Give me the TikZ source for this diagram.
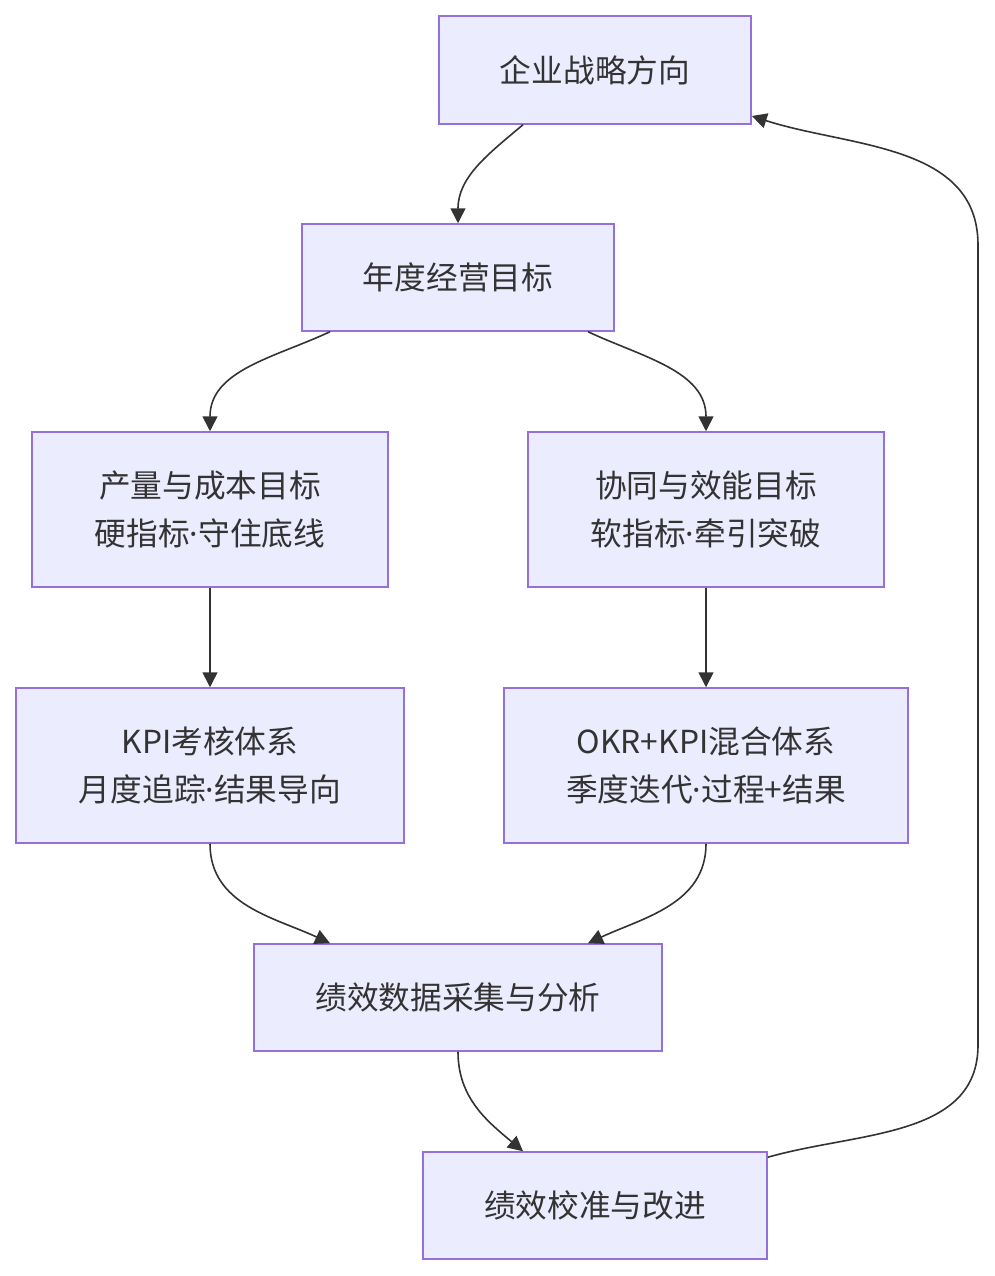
\documentclass[tikz,border=0pt]{standalone}
\usepackage{fontspec}
\setmainfont{Noto Sans CJK SC}
\newfontfamily\latinfont{Noto Sans}
\usetikzlibrary{arrows.meta}
\definecolor{boxfill}{HTML}{ECECFF}
\definecolor{boxline}{HTML}{9370DB}
\definecolor{ink}{HTML}{333333}
\newcommand{\mdot}{{\latinfont ·}}
\begin{document}
\begin{tikzpicture}[x=1pt,y=-1pt,
    box/.style={draw=boxline, fill=boxfill, line width=1.5pt, inner sep=0pt,
      text=ink, align=center, font=\fontsize{31.7}{48}\selectfont},
    arr/.style={draw=ink, line width=1.6pt, -{Triangle[length=15pt,width=15pt]}}]
    \useasboundingbox (0,0) rectangle (995,1276);
    % nodes
    \node[box, minimum width=312pt, minimum height=108pt] (strategy) at (595,70) {企业战略方向};
    \node[box, minimum width=312pt, minimum height=107pt] (annual) at (458,277.5) {年度经营目标};
    \node[box, minimum width=356pt, minimum height=155pt] (hard) at (210,509.5) {产量与成本目标\\硬指标\mdot 守住底线};
    \node[box, minimum width=356pt, minimum height=155pt] (soft) at (706,509.5) {协同与效能目标\\软指标\mdot 牵引突破};
    \node[box, minimum width=388pt, minimum height=155pt] (kpi) at (210,765.5) {KPI考核体系\\月度追踪\mdot 结果导向};
    \node[box, minimum width=404pt, minimum height=155pt] (okr) at (706,765.5) {OKR+KPI混合体系\\季度迭代\mdot 过程+结果};
    \node[box, minimum width=408pt, minimum height=107pt] (data) at (458,997.5) {绩效数据采集与分析};
    \node[box, minimum width=344pt, minimum height=107pt] (calib) at (595,1205.5) {绩效校准与改进};
    % feedback route
    \coordinate (back1) at (978,1045);
    \coordinate (back2) at (978,245);
    % connectors
    \draw[arr] ([xshift=-72pt]strategy.south) to[out=-140,in=90] (annual.north);
    \draw[arr] ([xshift=-128pt]annual.south) to[out=-155,in=90] (hard.north);
    \draw[arr] ([xshift=130pt]annual.south) to[out=-25,in=90] (soft.north);
    \draw[arr] (hard) -- (kpi);
    \draw[arr] (soft) -- (okr);
    \draw[arr] (kpi.south) to[out=-90,in=155] ([xshift=-128pt]data.north);
    \draw[arr] (okr.south) to[out=-90,in=25] ([xshift=130pt]data.north);
    \draw[arr] (data.south) to[out=-90,in=140] ([xshift=-72pt]calib.north);
    \draw[arr] ([yshift=-6pt]calib.north east) to[out=16,in=-90] (back1) -- (back2)
      to[out=90,in=-18] ([yshift=-46pt]strategy.east);
\end{tikzpicture}
\end{document}
